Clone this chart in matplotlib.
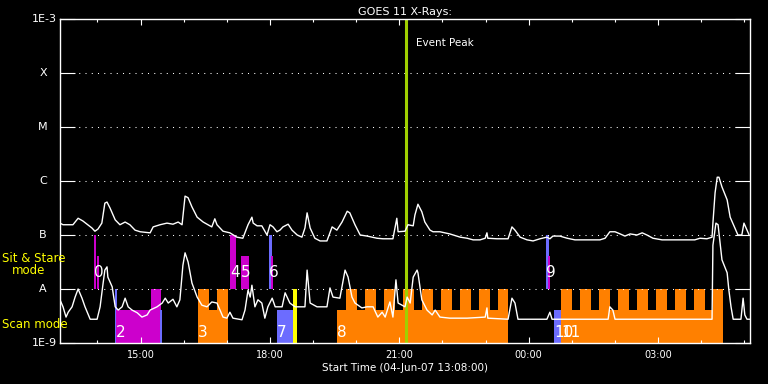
import numpy as np
import matplotlib
matplotlib.use('Agg')
import matplotlib.pyplot as plt

# time axis: hours after start (04-Jun-07 13:08:00)
hour_ticks = [0.867 + k for k in range(16)]
label_ticks = [1.867, 4.867, 7.867, 10.867, 13.867]
label_text = ['15:00', '18:00', '21:00', '00:00', '03:00']

levels = [1e-3, 1e-4, 1e-5, 1e-6, 1e-7, 1e-8, 1e-9]
level_names = ['1E-3', 'X', 'M', 'C', 'B', 'A', '1E-9']

# GOES 11 long channel (1-8 A), log10 flux
long_t = [0.00, 0.07, 0.30, 0.42, 0.53, 0.74, 0.81, 0.88, 0.97, 1.04, 1.09, 1.16,
          1.28, 1.39, 1.51, 1.62, 1.74, 1.86, 2.09, 2.16, 2.32, 2.48, 2.62, 2.74,
          2.83, 2.90, 2.97, 3.06, 3.18, 3.32, 3.52, 3.59, 3.64, 3.78, 3.94, 4.10,
          4.24, 4.36, 4.45, 4.48, 4.57, 4.68, 4.80, 4.87, 4.94, 5.03, 5.10, 5.17,
          5.29, 5.38, 5.50, 5.61, 5.68, 5.73, 5.80, 5.91, 6.03, 6.19, 6.31, 6.42,
          6.54, 6.66, 6.72, 6.84, 6.96, 7.12, 7.35, 7.49, 7.72, 7.81, 7.84, 8.00,
          8.07, 8.19, 8.23, 8.30, 8.39, 8.46, 8.58, 8.65, 8.81, 9.04, 9.28, 9.44,
          9.58, 9.74, 9.86, 9.90, 9.92, 10.13, 10.39, 10.48, 10.55, 10.67, 10.83, 10.97,
          11.13, 11.29, 11.36, 11.43, 11.59, 11.76, 11.94, 12.52, 12.64, 12.75, 12.87, 12.99,
          13.10, 13.22, 13.38, 13.50, 13.61, 13.75, 13.96, 14.72, 14.84, 15.00, 15.12, 15.14,
          15.19, 15.24, 15.28, 15.35, 15.47, 15.54, 15.65, 15.72, 15.81, 15.86, 15.93, 15.98]
long_log = [-6.78, -6.81, -6.81, -6.69, -6.74, -6.87, -6.93, -6.89, -6.78, -6.41, -6.39, -6.50,
            -6.72, -6.81, -6.76, -6.81, -6.91, -6.94, -6.96, -6.85, -6.81, -6.78, -6.80, -6.76,
            -6.81, -6.28, -6.31, -6.48, -6.67, -6.76, -6.85, -6.70, -6.81, -6.93, -6.96, -7.04,
            -7.06, -6.81, -6.67, -6.78, -6.83, -6.83, -7.00, -6.81, -6.85, -6.94, -6.91, -6.85,
            -6.80, -6.91, -7.00, -7.04, -6.87, -6.59, -6.87, -7.06, -7.11, -7.11, -6.85, -6.91,
            -6.76, -6.56, -6.59, -6.81, -7.00, -7.02, -7.06, -7.07, -7.07, -6.69, -6.94, -6.93,
            -6.81, -6.83, -6.63, -6.43, -6.57, -6.76, -6.91, -6.94, -6.94, -6.98, -7.04, -7.06,
            -7.09, -7.09, -7.06, -6.96, -7.06, -7.07, -7.07, -6.85, -6.91, -7.04, -7.09, -7.11,
            -7.07, -7.04, -7.07, -7.02, -7.02, -7.06, -7.09, -7.09, -7.06, -6.94, -6.94, -6.98,
            -7.02, -6.98, -7.00, -6.96, -7.00, -7.06, -7.09, -7.09, -7.06, -7.07, -7.04, -6.78,
            -6.22, -5.93, -5.93, -6.11, -6.35, -6.67, -6.87, -7.00, -7.00, -6.78, -6.91, -7.00]

# short channel (0.5-4 A), log10 flux
short_t = [0.00, 0.07, 0.14, 0.19, 0.28, 0.35, 0.42, 0.51, 0.58, 0.70, 0.86, 0.93,
           1.00, 1.04, 1.09, 1.11, 1.21, 1.28, 1.35, 1.44, 1.51, 1.58, 1.67, 1.79,
           1.90, 2.02, 2.09, 2.25, 2.37, 2.44, 2.51, 2.62, 2.71, 2.78, 2.85, 2.90,
           2.97, 3.06, 3.18, 3.29, 3.41, 3.52, 3.64, 3.78, 3.87, 3.94, 4.01, 4.22,
           4.29, 4.36, 4.41, 4.45, 4.52, 4.59, 4.68, 4.75, 4.82, 4.92, 4.99, 5.15,
           5.22, 5.33, 5.45, 5.68, 5.73, 5.80, 5.96, 6.19, 6.26, 6.33, 6.49, 6.61,
           6.68, 6.77, 6.84, 7.00, 7.12, 7.26, 7.37, 7.47, 7.54, 7.65, 7.72, 7.79,
           7.84, 8.00, 8.05, 8.12, 8.19, 8.28, 8.30, 8.39, 8.51, 8.63, 8.70, 8.81,
           9.04, 9.44, 9.86, 9.90, 9.92, 10.39, 10.48, 10.55, 10.62, 11.29, 11.36, 11.41,
           12.71, 12.75, 12.82, 12.87, 15.12, 15.14, 15.21, 15.26, 15.28, 15.35, 15.47, 15.51,
           15.56, 15.61, 15.79, 15.84, 15.88, 15.93, 16.00]
short_log = [-8.20, -8.33, -8.52, -8.43, -8.33, -8.15, -8.00, -8.17, -8.33, -8.56, -8.56, -8.33,
             -7.89, -7.65, -7.59, -7.78, -7.96, -8.33, -8.39, -8.33, -8.17, -8.33, -8.39, -8.44,
             -8.52, -8.48, -8.39, -8.33, -8.26, -8.17, -8.26, -8.19, -8.33, -8.20, -7.56, -7.33,
             -7.50, -7.89, -8.15, -8.30, -8.33, -8.24, -8.26, -8.52, -8.54, -8.43, -8.54, -8.57,
             -8.39, -8.02, -8.15, -7.93, -8.33, -8.20, -8.26, -8.54, -8.33, -8.17, -8.33, -8.33,
             -8.07, -8.26, -8.33, -8.33, -7.65, -8.26, -8.33, -8.33, -7.98, -8.15, -8.17, -7.65,
             -7.78, -8.15, -8.26, -8.35, -8.33, -8.33, -8.52, -8.43, -8.52, -8.24, -8.52, -7.83,
             -8.26, -8.33, -8.15, -8.26, -7.78, -7.65, -7.70, -8.20, -8.39, -8.48, -8.39, -8.52,
             -8.54, -8.54, -8.52, -8.35, -8.54, -8.56, -8.17, -8.26, -8.56, -8.56, -8.43, -8.56,
             -8.56, -8.33, -8.39, -8.56, -8.56, -7.19, -6.78, -6.81, -6.96, -7.46, -7.70, -8.02,
             -8.33, -8.56, -8.56, -8.17, -8.48, -8.56, -8.56]

# sit & stare observations: (start, end, tall?, colour)
stare_obs = [(0.79, 0.83, True, 'm'), (0.86, 0.90, False, 'm'),
             (3.94, 4.08, True, 'm'), (4.20, 4.38, False, 'm'),
             (4.85, 4.92, True, 'b'), (4.89, 4.94, False, 'm'),
             (11.27, 11.34, True, 'b'), (11.32, 11.36, False, 'm')]
# scan observations (base blocks)
scan_obs = [(1.28, 1.32, True, 'b'), (1.30, 2.34, False, 'm'), (2.11, 2.34, True, 'm'),
            (2.32, 2.37, False, 'b'), (3.20, 3.90, False, 'o'), (5.03, 5.40, False, 'b'),
            (5.40, 5.50, True, 'y'), (6.42, 10.39, False, 'o'), (11.46, 11.62, False, 'b'),
            (11.62, 15.37, False, 'o')]
# raster teeth of the long scans
teeth = [(3.20, 3.46), (3.64, 3.90),
         (6.63, 6.89), (7.07, 7.33), (7.51, 7.77), (7.95, 8.21), (8.39, 8.65),
         (8.84, 9.10), (9.28, 9.54), (9.72, 9.98), (10.16, 10.39),
         (11.62, 11.88), (12.06, 12.32), (12.50, 12.76), (12.94, 13.20), (13.38, 13.64),
         (13.82, 14.08), (14.26, 14.52), (14.70, 14.96), (15.14, 15.37)]

obs_labels = ['0', '2', '3', '4', '5', '6', '7', '8', '9', '10', '11']
obs_label_t = [0.79, 1.30, 3.20, 3.94, 4.20, 4.85, 5.03, 6.42, 11.27, 11.46, 11.62]
obs_label_row = ['s', 'c', 'c', 's', 's', 's', 'c', 'c', 's', 'c', 'c']

event_peak = 8.03

colors = {'m': '#cc00cc', 'b': '#6c6cff', 'o': '#ff8000', 'y': '#ffff00'}

fig = plt.figure(figsize=(7.68, 3.84), dpi=100, facecolor='black')
ax = fig.add_axes([60 / 768, 41 / 384, 690 / 768, 324 / 384], facecolor='black')
ax.set_yscale('log')
ax.set_xlim(0, 16)
ax.set_ylim(1e-9, 1e-3)

for t0, t1, tall, c in stare_obs:
    top = 1e-7 if tall else 4e-8
    ax.bar(t0, top - 1e-8, bottom=1e-8, width=t1 - t0, align='edge', color=colors[c], lw=0)
for t0, t1, tall, c in scan_obs:
    top = 1e-8 if tall else 4e-9
    ax.bar(t0, top - 1e-9, bottom=1e-9, width=t1 - t0, align='edge', color=colors[c], lw=0)
for t0, t1 in teeth:
    ax.bar(t0, 1e-8 - 1e-9, bottom=1e-9, width=t1 - t0, align='edge', color=colors['o'], lw=0)

for lev in levels[1:-1]:
    ax.axhline(lev, color='white', lw=0.75, linestyle=(0, (1, 5)))

ax.axvline(event_peak, color='#a0d000', lw=2.2)
ax.text(event_peak + 0.23, 3.6e-4, 'Event Peak', color='white', fontsize=7.5, va='center')

ax.plot(long_t, 10 ** np.array(long_log), color='white', lw=1.0)
ax.plot(short_t, 10 ** np.array(short_log), color='white', lw=1.0)

for txt, t, row in zip(obs_labels, obs_label_t, obs_label_row):
    y = 2.05e-8 if row == 's' else 1.55e-9
    ax.text(t, y, txt, color='white', fontsize=11, ha='left', va='center')

for s in ax.spines.values():
    s.set_color('white')
    s.set_linewidth(1.0)

ax.set_xticks(label_ticks)
ax.set_xticklabels(label_text)
ax.set_xticks(hour_ticks, minor=True)
ax.tick_params(axis='x', which='major', direction='in', length=4.5, width=0.8,
               colors='white', top=True, bottom=True, labelsize=7, pad=5)
ax.tick_params(axis='x', which='minor', direction='in', length=2.3, width=0.8,
               colors='white', top=True, bottom=True)
ax.set_yticks(levels)
ax.yaxis.set_minor_locator(matplotlib.ticker.NullLocator())
ax.tick_params(axis='y', which='major', direction='in', length=10.8, width=0.8,
               colors='white', left=True, right=True, labelleft=False)

ytr = ax.get_yaxis_transform()
for lev, name in zip(levels, level_names):
    if name.startswith('1E'):
        ax.text(-0.005, lev, name, transform=ytr, color='white', fontsize=8,
                ha='right', va='center')
    else:
        ax.text(-0.0246, lev, name, transform=ytr, color='white', fontsize=8,
                ha='center', va='center')

ax.set_title('GOES 11 X-Rays:', color='white', fontsize=8, pad=3)
ax.set_xlabel('Start Time (04-Jun-07 13:08:00)', color='white', fontsize=7.5, labelpad=2)

fig.text(2 / 768, 1 - 258 / 384, 'Sit & Stare', color='#ffff00', fontsize=8.5, va='center')
fig.text(12 / 768, 1 - 271 / 384, 'mode', color='#ffff00', fontsize=8.5, va='center')
fig.text(2 / 768, 1 - 324 / 384, 'Scan mode', color='#ffff00', fontsize=8.5, va='center')

fig.savefig('out.png', dpi=100, facecolor='black')
